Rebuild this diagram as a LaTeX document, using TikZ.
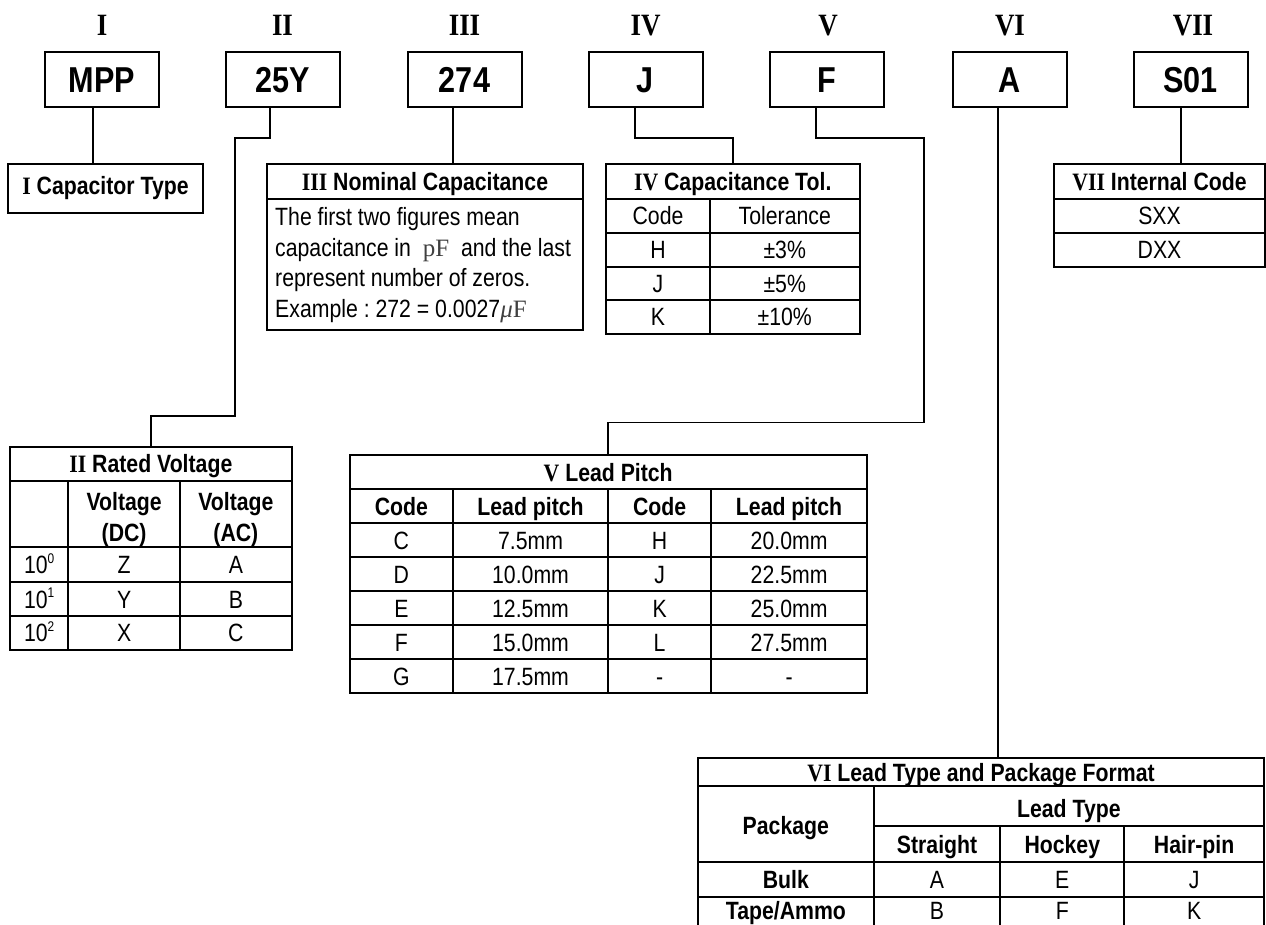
\documentclass[tikz,border=0pt]{standalone}
\usepackage{fontspec}
\setmainfont{Liberation Sans}[FakeStretch=0.85]
\newfontfamily\rmn{Liberation Serif}[FakeStretch=0.87]
\newfontfamily\unitf{Liberation Serif}
\newcommand\fT{\fontsize{25}{30}\selectfont}
\newcommand\fBig{\fontsize{36}{41}\selectfont}
\newcommand\fNum{\fontsize{31}{36}\selectfont}
\newcommand\unitc[1]{{\unitf\color{black!75}#1}}
\newcommand\supx[1]{\raisebox{0.42em}{\fontsize{14}{14}\selectfont #1}}
\frenchspacing
\begin{document}
\begin{tikzpicture}[x=1pt,y=-1pt,
  topbox/.style={draw, line width=2pt, minimum width=114pt, minimum height=55pt, inner sep=0pt, text height=25.8pt, text depth=0pt, font=\fBig\bfseries},
  numeral/.style={anchor=base, yshift=-10.3pt, inner sep=0pt, font=\fNum\rmn\bfseries},
  frame/.style={draw, line width=2pt, inner sep=0pt},
  grid/.style={line width=2pt},
  conn/.style={line width=1.5pt},
  cell/.style={anchor=base, yshift=-8.9pt, inner sep=0pt, font=\fT},
  bcell/.style={cell, font=\fT\bfseries},
  body/.style={anchor=base west, inner sep=0pt, font=\fT}]
\useasboundingbox (0,0) rectangle (1266,925);
\clip (0,0) rectangle (1266,925);

% roman numerals
\node[numeral] (n1) at (102,25) {I};
\node[numeral] (n2) at (282.5,25) {II};
\node[numeral] (n3) at (464.5,25) {III};
\node[numeral] (n4) at (645.5,25) {IV};
\node[numeral] (n5) at (828,25) {V};
\node[numeral] (n6) at (1010,25) {VI};
\node[numeral] (n7) at (1193,25) {VII};

% code boxes
\node[topbox] (b1) at (102,79.5) {MPP};
\node[topbox] (b2) at (282.5,79.5) {25Y};
\node[topbox] (b3) at (464.5,79.5) {274};
\node[topbox] (b4) at (645.5,79.5) {J};
\node[topbox] (b5) at (826.5,79.5) {F};
\node[topbox] (b6) at (1009.5,79.5) {A};
\node[topbox] (b7) at (1190.5,79.5) {S01};

% table frames
\node[frame, minimum width=195pt, minimum height=49pt, font=\fT\bfseries] (tI) at (105.5,188.5) {{\rmn I} Capacitor Type};
\node[frame, minimum width=316pt, minimum height=166pt] (tIII) at (425,247) {};
\node[frame, minimum width=253.5pt, minimum height=170pt] (tIV) at (732.75,249) {};
\node[frame, minimum width=211pt, minimum height=103pt] (tVII) at (1159.5,215.5) {};
\node[frame, minimum width=281.7pt, minimum height=202.7pt] (tII) at (150.85,548.65) {};
\node[frame, minimum width=517.2pt, minimum height=238.3pt] (tV) at (608.2,574.15) {};
\node[frame, minimum width=566pt, minimum height=172.7pt] (tVI) at (981,844.65) {};

% connectors
\coordinate (k2a) at (235,138);
\coordinate (k2b) at (150.85,416);
\coordinate (k4) at (732.75,138);
\coordinate (k5a) at (924,138);
\coordinate (k5b) at (608.2,422.7);
\draw[conn] ([xshift=-9pt]b1.south) -- ([xshift=-9pt]b1.south |- tI.north);
\draw[conn] ([xshift=-12.5pt]b2.south) |- (k2a) |- (k2b) -- (tII.north);
\draw[conn] ([xshift=-11.5pt]b3.south) -- ([xshift=-11.5pt]b3.south |- tIII.north);
\draw[conn] ([xshift=-10.5pt]b4.south) |- (k4) -- (tIV.north);
\draw[conn] ([xshift=-10.5pt]b5.south) |- (k5a) |- (k5b) -- (tV.north);
\draw[conn] ([xshift=-11.5pt]b6.south) -- ([xshift=-11.5pt]b6.south |- tVI.north);
\draw[conn] ([xshift=-9.5pt]b7.south) -- ([xshift=-9.5pt]b7.south |- tVII.north);

% III Nominal Capacitance
\draw[grid] (267,199) -- (583,199);
\node[bcell] (h3) at (425,181.5) {{\rmn III} Nominal Capacitance};
\node[body] (l31) at (275,226) {The first two figures mean};
\node[body] (l32) at (275,256.3) {capacitance in \ \unitc{pF} \ and the last};
\node[body] (l33) at (275,286.6) {represent number of zeros.};
\node[body] (l34) at (275,317) {Example : 272 = 0.0027\unitc{\itshape μ}\unitc{F}};

% IV Capacitance Tol.
\foreach \y in {199,233,267,300} \draw[grid] (606,\y) -- (859.5,\y);
\draw[grid] (710,199) -- (710,334);
\node[bcell] (h4) at (732.75,181.5) {{\rmn IV} Capacitance Tol.};
\foreach \y/\a/\b [count=\r] in {216/Code/Tolerance, 250/H/±3\%, 283.5/J/±5\%, 317/K/±10\%} {
  \node[cell] (iv\r a) at (658,\y) {\a};
  \node[cell] (iv\r b) at (784.75,\y) {\b};
}

% VII Internal Code
\foreach \y in {199,233} \draw[grid] (1054,\y) -- (1265,\y);
\node[bcell] (h7) at (1159.5,181.5) {{\rmn VII} Internal Code};
\node[cell] (vii1) at (1159.5,216) {SXX};
\node[cell] (vii2) at (1159.5,250) {DXX};

% II Rated Voltage
\foreach \y in {480.7,547.3,582.3,616} \draw[grid] (10,\y) -- (291.7,\y);
\draw[grid] (68.3,480.7) -- (68.3,650);
\draw[grid] (180,480.7) -- (180,650);
\node[bcell] (h2) at (150.85,464) {{\rmn II} Rated Voltage};
\node[bcell] (ii0a) at (124.15,501.7) {Voltage};
\node[bcell] (ii0b) at (124.15,533) {(DC)};
\node[bcell] (ii0c) at (235.85,501.7) {Voltage};
\node[bcell] (ii0d) at (235.85,533) {(AC)};
\foreach \y/\a/\b/\c [count=\r] in {564.8/{10\supx{0}}/Z/A, 599.15/{10\supx{1}}/Y/B, 633/{10\supx{2}}/X/C} {
  \node[cell] (ii\r a) at (39.15,\y) {\a};
  \node[cell] (ii\r b) at (124.15,\y) {\b};
  \node[cell] (ii\r c) at (235.85,\y) {\c};
}

% V Lead Pitch
\foreach \y in {489.3,523.3,557.3,591,625.3,659.3} \draw[grid] (349.6,\y) -- (866.8,\y);
\foreach \x in {453.2,607.9,711.4} \draw[grid] (\x,489.3) -- (\x,693.3);
\node[bcell] (h5) at (608.2,472.15) {{\rmn V} Lead Pitch};
\node[bcell] (v0a) at (401.4,506.3) {Code};
\node[bcell] (v0b) at (530.55,506.3) {Lead pitch};
\node[bcell] (v0c) at (659.65,506.3) {Code};
\node[bcell] (v0d) at (789.1,506.3) {Lead pitch};
\foreach \y/\a/\b/\c/\d [count=\r] in {540.3/C/7.5mm/H/20.0mm, 574.15/D/10.0mm/J/22.5mm, 608.15/E/12.5mm/K/25.0mm, 642.3/F/15.0mm/L/27.5mm, 676.3/G/17.5mm/-/-} {
  \node[cell] (v\r a) at (401.4,\y) {\a};
  \node[cell] (v\r b) at (530.55,\y) {\b};
  \node[cell] (v\r c) at (659.65,\y) {\c};
  \node[cell] (v\r d) at (789.1,\y) {\d};
}

% VI Lead Type and Package Format
\draw[grid] (698,786) -- (1264,786);
\draw[grid] (873.7,825.7) -- (1264,825.7);
\draw[grid] (698,861.7) -- (1264,861.7);
\draw[grid] (698,896.7) -- (1264,896.7);
\draw[grid] (873.7,786) -- (873.7,931);
\draw[grid] (1000.4,825.7) -- (1000.4,931);
\draw[grid] (1124.2,825.7) -- (1124.2,931);
\node[bcell] (h6) at (981,772.15) {{\rmn VI} Lead Type and Package Format};
\node[bcell] (vi0) at (785.85,826) {Package};
\node[bcell] (vi1) at (1068.85,809) {Lead Type};
\node[bcell] (vi2) at (937.05,844.5) {Straight};
\node[bcell] (vi3) at (1062.3,844.5) {Hockey};
\node[bcell] (vi4) at (1194.1,844.5) {Hair-pin};
\node[bcell] (vi5) at (785.85,879.2) {Bulk};
\node[cell] (vi6) at (937.05,879.2) {A};
\node[cell] (vi7) at (1062.3,879.2) {E};
\node[cell] (vi8) at (1194.1,879.2) {J};
\node[bcell] (vi9) at (785.85,911) {Tape/Ammo};
\node[cell] (vi10) at (937.05,911) {B};
\node[cell] (vi11) at (1062.3,911) {F};
\node[cell] (vi12) at (1194.1,911) {K};
\end{tikzpicture}
\end{document}
